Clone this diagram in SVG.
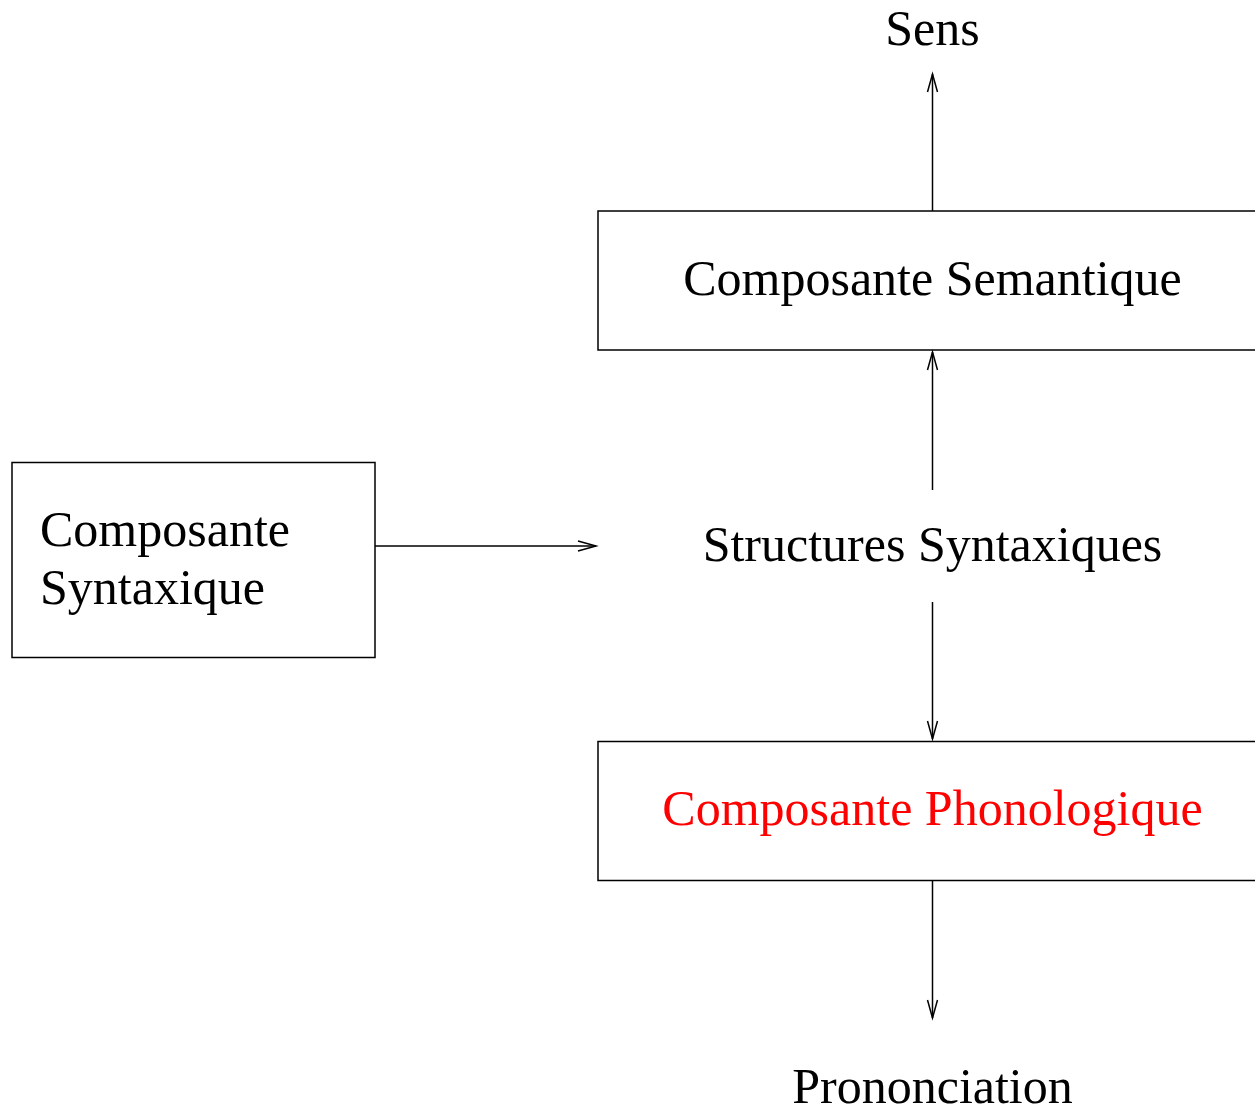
<svg xmlns="http://www.w3.org/2000/svg" width="1255" height="1108" viewBox="0 0 1255 1108">
<style>
.box{fill:none;stroke:#000;stroke-width:1.5}
.t{font-family:"Liberation Serif","Times New Roman",serif;font-size:50px;fill:#000}
.c{text-anchor:middle}
.red{fill:#ff0000}
.ln{stroke:#000;stroke-width:1.5;fill:none;marker-end:url(#ah)}
</style>
<defs>
<marker id="ah" markerUnits="userSpaceOnUse" markerWidth="24" markerHeight="14" refX="19" refY="6" orient="auto" viewBox="0 0 24 12">
<path d="M1,1 L19,6 L1,11" fill="none" stroke="#000" stroke-width="1.5"/>
</marker>
</defs>
<rect width="1255" height="1108" fill="#fff"/>
<g id="connectors">
<line class="ln" x1="932.5" y1="211" x2="932.5" y2="74"/>
<line class="ln" x1="932.5" y1="490" x2="932.5" y2="352"/>
<line class="ln" x1="932.5" y1="602" x2="932.5" y2="739"/>
<line class="ln" x1="932.5" y1="881" x2="932.5" y2="1018"/>
<line class="ln" x1="375" y1="546" x2="596" y2="546"/>
</g>
<g id="sens"><text class="t c" x="932.5" y="45">Sens</text></g>
<g id="semantique">
<rect class="box" x="598" y="211" width="670" height="139"/>
<text class="t c" x="932.5" y="295">Composante Semantique</text>
</g>
<g id="structures"><text class="t c" x="932.5" y="561">Structures Syntaxiques</text></g>
<g id="syntaxique">
<rect class="box" x="12" y="462.5" width="363" height="195"/>
<text class="t" x="40" y="546">Composante</text>
<text class="t" x="40" y="604">Syntaxique</text>
</g>
<g id="phonologique">
<rect class="box" x="598" y="741.5" width="670" height="139"/>
<text class="t c red" x="932.5" y="825">Composante Phonologique</text>
</g>
<g id="prononciation"><text class="t c" x="932.5" y="1103">Prononciation</text></g>
</svg>
